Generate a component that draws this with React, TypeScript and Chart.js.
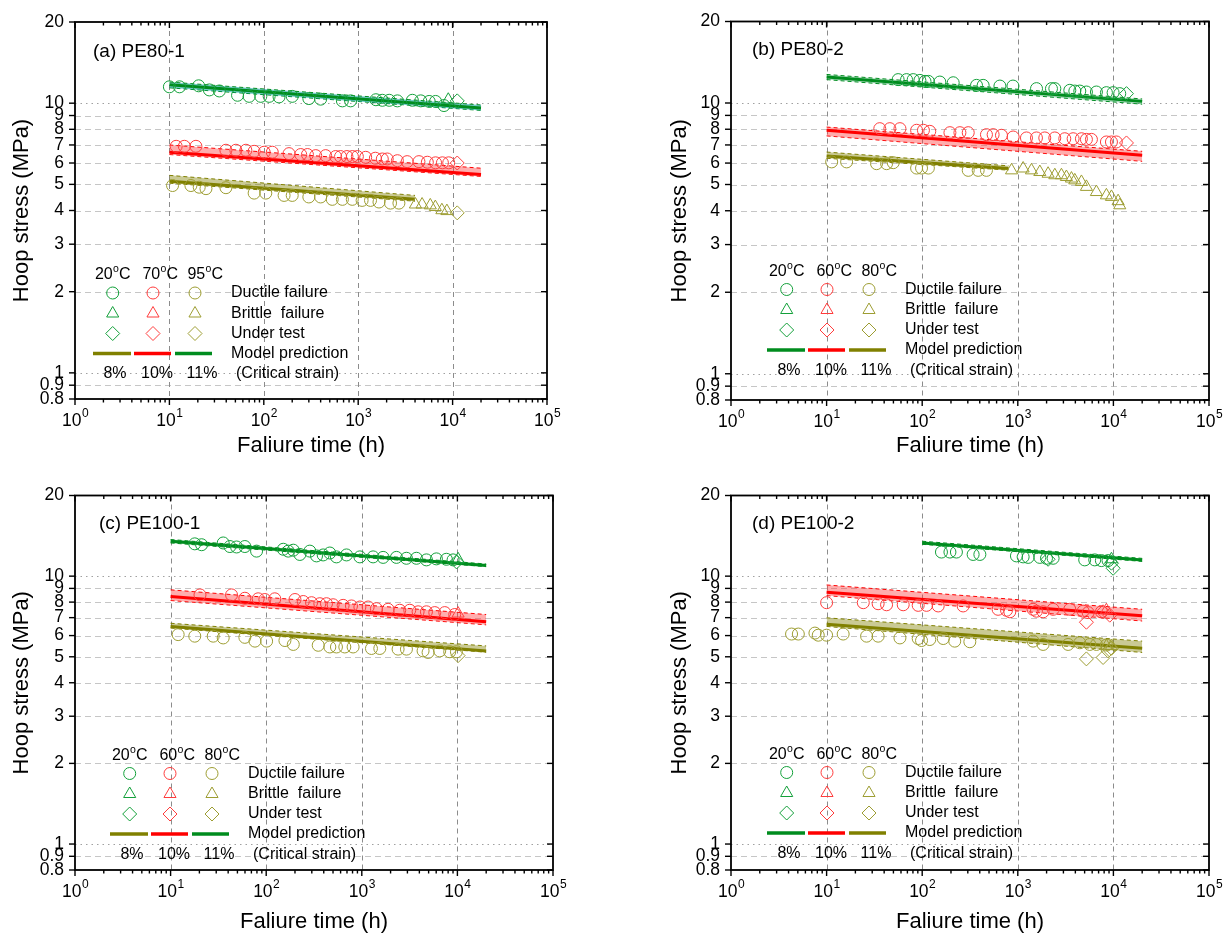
import { useEffect, useRef } from "react";
import { Chart, registerables } from "chart.js";

Chart.register(...registerables);

type Pt = [number, number];

const FONT = "'Liberation Sans', Arial, Helvetica, sans-serif";

// axes
const xDecades = [1, 10, 100, 1000, 10000, 100000];
const yTickValues = [0.8, 0.9, 1, 2, 3, 4, 5, 6, 7, 8, 9, 10, 20];
const yDashedGrid = [0.9, 2, 3, 4, 5, 6, 7, 8, 9];
const yDottedGrid = [1, 10];
const xGrid = [10, 100, 1000, 10000];

// colours for the three temperatures (low, mid, high)
const markerColors = ["#13a03a", "#ff3c3c", "#9d9d32"];
const lineColors = ["#008c1e", "#ff0000", "#808000"];
const bandColors = ["rgba(0,150,60,0.35)", "rgba(255,60,60,0.42)", "rgba(128,128,0,0.42)"];

// ---------- (a) PE80-1 ----------
const a20Ductile: Pt[] = [[10, 11.5], [12.8, 11.5], [20.4, 11.6], [26.5, 11.2], [33.8, 11.1], [52.7, 10.7], [70, 10.6], [93, 10.6], [114, 10.6], [145, 10.55], [200, 10.6], [300, 10.4], [400, 10.35], [680, 10.2], [830, 10.2], [1540, 10.3], [1800, 10.25], [2130, 10.25], [2600, 10.2], [3750, 10.25], [4600, 10.2], [5650, 10.15], [6600, 10.15], [8100, 9.8]];
const a20Brittle: Pt[] = [[9000, 10.3]];
const a20Under: Pt[] = [[11200, 10.2]];
const a20Model: Pt[] = [[10, 11.7], [20000, 9.6]];
const a20Upper: Pt[] = [[10, 11.98], [20000, 9.85]];
const a20Lower: Pt[] = [[10, 11.4], [20000, 9.4]];

const a70Ductile: Pt[] = [[11.8, 6.92], [14.4, 6.92], [19.1, 6.92], [39.7, 6.69], [50.6, 6.69], [64.6, 6.69], [79, 6.63], [101, 6.58], [123, 6.58], [185, 6.5], [246, 6.45], [290, 6.45], [355, 6.39], [452, 6.39], [577, 6.34], [650, 6.34], [760, 6.34], [868, 6.34], [980, 6.34], [1200, 6.3], [1520, 6.25], [1800, 6.21], [2030, 6.21], [2600, 6.12], [3300, 6.07], [4400, 6.07], [5400, 6.04], [6600, 6.01], [7800, 6.01], [9100, 6.01]];
const a70Brittle: Pt[] = [];
const a70Under: Pt[] = [[11200, 6.0]];
const a70Model: Pt[] = [[10, 6.58], [20000, 5.44]];
const a70Upper: Pt[] = [[10, 7.0], [20000, 5.74]];
const a70Lower: Pt[] = [[10, 6.45], [20000, 5.35]];

const a95Ductile: Pt[] = [[10.8, 4.95], [16.9, 4.95], [20.7, 4.88], [24.4, 4.82], [39.7, 4.86], [79, 4.64], [105, 4.64], [164, 4.55], [200, 4.55], [300, 4.49], [400, 4.49], [531, 4.4], [680, 4.4], [865, 4.4], [1100, 4.36], [1350, 4.36], [1660, 4.3], [2200, 4.26], [2700, 4.26]];
const a95Brittle: Pt[] = [[4040, 4.21], [4750, 4.21], [5800, 4.18], [6560, 4.12], [7700, 4.01], [8700, 3.98]];
const a95Under: Pt[] = [[11200, 3.92]];
const a95Model: Pt[] = [[10, 5.13], [4000, 4.4]];
const a95Upper: Pt[] = [[10, 5.4], [4000, 4.55]];
const a95Lower: Pt[] = [[10, 5.05], [4000, 4.33]];

// ---------- (b) PE80-2 ----------
const b20Ductile: Pt[] = [[56, 12.2], [68.6, 12.2], [80.5, 12.2], [94.6, 12.12], [107, 12.02], [116, 12.02], [153, 11.95], [211, 11.88], [370, 11.62], [434, 11.62], [650, 11.55], [890, 11.55], [1570, 11.3], [2250, 11.3], [2440, 11.3], [3500, 11.14], [3950, 11.07], [4450, 11.07], [5220, 10.98], [6640, 10.98], [8450, 10.92], [9930, 10.92], [11650, 10.83]];
const b20Brittle: Pt[] = [];
const b20Under: Pt[] = [[13700, 10.83]];
const b20Model: Pt[] = [[10, 12.47], [20000, 10.14]];
const b20Upper: Pt[] = [[10, 12.75], [20000, 10.35]];
const b20Lower: Pt[] = [[10, 12.2], [20000, 9.9]];

const b60Ductile: Pt[] = [[36, 8.04], [45.9, 8.04], [58.5, 8.04], [87.4, 7.93], [103, 7.93], [120, 7.86], [195, 7.77], [248, 7.77], [303, 7.77], [470, 7.64], [552, 7.64], [675, 7.6], [894, 7.49], [1232, 7.43], [1567, 7.43], [1915, 7.43], [2437, 7.43], [3100, 7.38], [3790, 7.38], [4630, 7.38], [5220, 7.34], [5890, 7.34], [8450, 7.18], [9540, 7.18], [10730, 7.18]];
const b60Brittle: Pt[] = [];
const b60Under: Pt[] = [[13700, 7.12]];
const b60Model: Pt[] = [[10, 7.93], [20000, 6.41]];
const b60Upper: Pt[] = [[10, 8.15], [20000, 6.63]];
const b60Lower: Pt[] = [[10, 7.56], [20000, 6.09]];

const b80Ductile: Pt[] = [[11.3, 6.06], [16.2, 6.06], [33.3, 5.97], [42.4, 5.97], [49.8, 6.02], [87.4, 5.75], [98.4, 5.75], [116, 5.75], [303, 5.64], [385, 5.64], [470, 5.64]];
const b80Brittle: Pt[] = [[860, 5.64], [1137, 5.73], [1390, 5.64], [1700, 5.56], [2075, 5.48], [2440, 5.41], [2860, 5.41], [3225, 5.33], [3640, 5.26], [3945, 5.18], [4630, 5.11], [5220, 4.9], [6640, 4.69], [8450, 4.56], [9540, 4.5], [11200, 4.34], [11650, 4.19]];
const b80Under: Pt[] = [];
const b80Model: Pt[] = [[10, 6.37], [800, 5.73]];
const b80Upper: Pt[] = [[10, 6.59], [800, 5.86]];
const b80Lower: Pt[] = [[10, 6.25], [800, 5.65]];

// ---------- (c) PE100-1 ----------
const c20Ductile: Pt[] = [[17.9, 13.2], [21.1, 13.1], [35.5, 13.3], [41.7, 12.9], [49, 12.85], [59.8, 12.9], [79.3, 12.4], [151, 12.6], [170, 12.4], [192, 12.5], [225, 12.05], [286, 12.4], [336, 11.9], [394, 12.0], [463, 12.2], [543, 11.8], [692, 12.0], [955, 11.8], [1313, 11.8], [1671, 11.75], [2303, 11.75], [2930, 11.66], [3727, 11.66], [4743, 11.5], [6030, 11.6], [7670, 11.56], [9010, 11.5]];
const c20Brittle: Pt[] = [[10170, 11.56]];
const c20Under: Pt[] = [[9800, 11.3]];
const c20Model: Pt[] = [[10, 13.5], [20000, 10.96]];
const c20Upper: Pt[] = [[10, 13.7], [20000, 11.1]];
const c20Lower: Pt[] = [[10, 13.3], [20000, 10.85]];

const c60Ductile: Pt[] = [[20.3, 8.51], [43.4, 8.51], [59.8, 8.27], [82.4, 8.23], [96.8, 8.18], [123, 8.23], [200, 8.18], [244, 8.04], [298, 7.96], [364, 7.89], [427, 7.89], [501, 7.82], [638, 7.78], [780, 7.74], [955, 7.67], [1165, 7.67], [1423, 7.56], [1884, 7.52], [2494, 7.46], [3175, 7.46], [3880, 7.36], [4743, 7.36], [5800, 7.31], [7380, 7.31], [9380, 7.19]];
const c60Brittle: Pt[] = [[10170, 7.25]];
const c60Under: Pt[] = [];
const c60Model: Pt[] = [[10, 8.39], [20000, 6.76]];
const c60Upper: Pt[] = [[10, 8.89], [20000, 7.19]];
const c60Lower: Pt[] = [[10, 8.11], [20000, 6.58]];

const c80Ductile: Pt[] = [[12, 6.05], [17.9, 5.97], [27.9, 5.97], [35.5, 5.88], [59.8, 5.91], [76.3, 5.72], [101, 5.72], [157, 5.75], [192, 5.56], [350, 5.52], [463, 5.44], [543, 5.44], [664, 5.44], [811, 5.44], [1262, 5.37], [1543, 5.37], [2397, 5.34], [2930, 5.34], [4375, 5.26], [4935, 5.19], [6530, 5.26], [8310, 5.22], [9770, 5.22]];
const c80Brittle: Pt[] = [];
const c80Under: Pt[] = [[10170, 5.05]];
const c80Model: Pt[] = [[10, 6.49], [20000, 5.26]];
const c80Upper: Pt[] = [[10, 6.67], [20000, 5.49]];
const c80Lower: Pt[] = [[10, 6.4], [20000, 5.2]];

// ---------- (d) PE100-2 ----------
const d20Ductile: Pt[] = [[159, 12.3], [195, 12.3], [228, 12.3], [341, 12.05], [401, 12.05], [968, 11.9], [1137, 11.8], [1283, 11.75], [1700, 11.75], [1995, 11.66], [2340, 11.66], [5010, 11.5], [6380, 11.5], [7490, 11.43], [8790, 11.43]];
const d20Brittle: Pt[] = [[9540, 11.56]];
const d20Under: Pt[] = [[2075, 11.56], [9930, 10.7], [9540, 11.18]];
const d20Model: Pt[] = [[100, 13.3], [20000, 11.5]];
const d20Upper: Pt[] = [[100, 13.5], [20000, 11.65]];
const d20Lower: Pt[] = [[100, 13.15], [20000, 11.35]];

const d60Ductile: Pt[] = [[10, 7.96], [24.2, 7.96], [34.6, 7.89], [42.4, 7.82], [63.3, 7.82], [90.8, 7.78], [111, 7.78], [147, 7.74], [268, 7.74], [622, 7.52], [762, 7.46], [825, 7.36], [1445, 7.52], [1567, 7.4], [1840, 7.36], [2340, 7.52], [3496, 7.52], [4820, 7.4], [5440, 7.31], [7490, 7.36]];
const d60Brittle: Pt[] = [[8450, 7.46]];
const d60Under: Pt[] = [[5220, 6.73], [7800, 7.36], [9160, 7.15]];
const d60Model: Pt[] = [[10, 8.7], [20000, 7.11]];
const d60Upper: Pt[] = [[10, 9.27], [20000, 7.52]];
const d60Lower: Pt[] = [[10, 8.46], [20000, 6.8]];

const d80Ductile: Pt[] = [[4.3, 6.08], [5.06, 6.08], [7.55, 6.13], [8.18, 6.02], [10, 6.02], [14.9, 6.08], [26.2, 5.97], [34.6, 5.97], [58.5, 5.88], [90.8, 5.85], [98.4, 5.75], [120, 5.8], [166, 5.85], [219, 5.72], [315, 5.69], [1445, 5.72], [1840, 5.56], [3360, 5.56], [4450, 5.64], [5660, 5.56], [6640, 5.56], [8450, 5.53]];
const d80Brittle: Pt[] = [[8450, 5.48], [9540, 5.48]];
const d80Under: Pt[] = [[5220, 4.91], [7800, 4.97], [8790, 5.26], [9540, 5.38]];
const d80Model: Pt[] = [[10, 6.62], [20000, 5.38]];
const d80Upper: Pt[] = [[10, 6.99], [20000, 5.72]];
const d80Lower: Pt[] = [[10, 6.49], [20000, 5.19]];

interface Group { ductile: Pt[]; brittle: Pt[]; under: Pt[]; model: Pt[]; upper: Pt[]; lower: Pt[] }

interface PanelCfg {
  label: string;
  temps: string[];
  legendLines: number[];
  groups: Group[];
  left: number;
  top: number;
  padTop: number;
  padRight: number;
  yWidth: number;
  xHeight: number;
  yTitlePad: number;
  xTitlePad: number;
  labelAt: [number, number];
  legendDx: number;
  legendY: number;
  bands?: string[];
}

const W = 616;
const H = 474;

const panels: PanelCfg[] = [
  {
    label: "(a) PE80-1", temps: ["20", "70", "95"], legendLines: [2, 1, 0],
    groups: [
      { ductile: a20Ductile, brittle: a20Brittle, under: a20Under, model: a20Model, upper: a20Upper, lower: a20Lower },
      { ductile: a70Ductile, brittle: a70Brittle, under: a70Under, model: a70Model, upper: a70Upper, lower: a70Lower },
      { ductile: a95Ductile, brittle: a95Brittle, under: a95Under, model: a95Model, upper: a95Upper, lower: a95Lower },
    ],
    left: 0, top: 0, padTop: 22, padRight: 69, yWidth: 75, xHeight: 75, yTitlePad: 9, xTitlePad: 15,
    labelAt: [18, 30], legendDx: 0, legendY: 253,
    bands: ["rgba(0,160,160,0.55)", bandColors[1], bandColors[2]],
  },
  {
    label: "(b) PE80-2", temps: ["20", "60", "80"], legendLines: [0, 1, 2],
    groups: [
      { ductile: b20Ductile, brittle: b20Brittle, under: b20Under, model: b20Model, upper: b20Upper, lower: b20Lower },
      { ductile: b60Ductile, brittle: b60Brittle, under: b60Under, model: b60Model, upper: b60Upper, lower: b60Lower },
      { ductile: b80Ductile, brittle: b80Brittle, under: b80Under, model: b80Model, upper: b80Upper, lower: b80Lower },
    ],
    left: W, top: 0, padTop: 19, padRight: 23, yWidth: 115, xHeight: 74, yTitlePad: 51, xTitlePad: 15,
    labelAt: [21, 28], legendDx: 18, legendY: 250,
  },
  {
    label: "(c) PE100-1", temps: ["20", "60", "80"], legendLines: [2, 1, 0],
    groups: [
      { ductile: c20Ductile, brittle: c20Brittle, under: c20Under, model: c20Model, upper: c20Upper, lower: c20Lower },
      { ductile: c60Ductile, brittle: c60Brittle, under: c60Under, model: c60Model, upper: c60Upper, lower: c60Lower },
      { ductile: c80Ductile, brittle: c80Brittle, under: c80Under, model: c80Model, upper: c80Upper, lower: c80Lower },
    ],
    left: 0, top: H, padTop: 13, padRight: 63, yWidth: 75, xHeight: 78, yTitlePad: 9, xTitlePad: 13,
    labelAt: [24, 28], legendDx: 17, legendY: 260,
  },
  {
    label: "(d) PE100-2", temps: ["20", "60", "80"], legendLines: [0, 1, 2],
    groups: [
      { ductile: d20Ductile, brittle: d20Brittle, under: d20Under, model: d20Model, upper: d20Upper, lower: d20Lower },
      { ductile: d60Ductile, brittle: d60Brittle, under: d60Under, model: d60Model, upper: d60Upper, lower: d60Lower },
      { ductile: d80Ductile, brittle: d80Brittle, under: d80Under, model: d80Model, upper: d80Upper, lower: d80Lower },
    ],
    left: W, top: H, padTop: 13, padRight: 23, yWidth: 115, xHeight: 78, yTitlePad: 51, xTitlePad: 13,
    labelAt: [21, 28], legendDx: 18, legendY: 259,
  },
];

const toXY = (pts: Pt[]) => pts.map(([x, y]) => ({ x, y }));

function seg(ctx: CanvasRenderingContext2D, x1: number, y1: number, x2: number, y2: number) {
  ctx.beginPath();
  ctx.moveTo(x1, y1);
  ctx.lineTo(x2, y2);
  ctx.stroke();
}

function marker(ctx: CanvasRenderingContext2D, kind: string, x: number, y: number, color: string) {
  ctx.save();
  ctx.setLineDash([]);
  ctx.strokeStyle = color;
  ctx.lineWidth = 1;
  ctx.beginPath();
  if (kind === "circle") {
    ctx.arc(x, y, 6, 0, Math.PI * 2);
  } else if (kind === "triangle") {
    const r = 7;
    ctx.moveTo(x, y - r);
    ctx.lineTo(x + r * Math.sin((2 * Math.PI) / 3), y - r * Math.cos((2 * Math.PI) / 3));
    ctx.lineTo(x + r * Math.sin((4 * Math.PI) / 3), y - r * Math.cos((4 * Math.PI) / 3));
    ctx.closePath();
  } else {
    const r = 7;
    ctx.moveTo(x, y - r);
    ctx.lineTo(x + r, y);
    ctx.lineTo(x, y + r);
    ctx.lineTo(x - r, y);
    ctx.closePath();
  }
  ctx.stroke();
  ctx.restore();
}

function makeDecor(cfg: PanelCfg) {
  return {
    id: "decor",
    beforeDatasetsDraw(chart: Chart) {
      const { ctx, chartArea: a } = chart;
      const x = chart.scales.x;
      const y = chart.scales.y;
      ctx.save();
      ctx.lineWidth = 1;
      ctx.strokeStyle = "#c6c6c6";
      ctx.setLineDash([6, 4]);
      yDashedGrid.forEach((v) => {
        const py = Math.round(y.getPixelForValue(v)) + 0.5;
        seg(ctx, a.left, py, a.right, py);
      });
      ctx.strokeStyle = "#a0a0a0";
      ctx.setLineDash([1.5, 4]);
      yDottedGrid.forEach((v) => {
        const py = Math.round(y.getPixelForValue(v)) + 0.5;
        seg(ctx, a.left, py, a.right, py);
      });
      ctx.strokeStyle = "#8c8c8c";
      ctx.setLineDash([5, 4]);
      xGrid.forEach((v) => {
        const px = Math.round(x.getPixelForValue(v)) + 0.5;
        seg(ctx, px, a.top, px, a.bottom);
      });
      ctx.restore();
    },
    afterDraw(chart: Chart) {
      const { ctx, chartArea: a } = chart;
      const x = chart.scales.x;
      const y = chart.scales.y;
      ctx.save();
      ctx.setLineDash([]);
      ctx.strokeStyle = "#000";
      ctx.lineWidth = 1.8;
      ctx.strokeRect(a.left, a.top, a.right - a.left, a.bottom - a.top);

      // x ticks: bottom outward, top inward
      ctx.lineWidth = 1.4;
      for (let d = 0; d < xDecades.length; d++) {
        const base = xDecades[d];
        const px = x.getPixelForValue(base);
        seg(ctx, px, a.bottom, px, a.bottom + 6);
        seg(ctx, px, a.top, px, a.top + 6);
        if (d < xDecades.length - 1) {
          for (let k = 2; k <= 9; k++) {
            const mx = x.getPixelForValue(base * k);
            seg(ctx, mx, a.bottom, mx, a.bottom + 3.5);
            seg(ctx, mx, a.top, mx, a.top + 3.5);
          }
        }
      }
      // y ticks: left outward, right inward
      yTickValues.forEach((v) => {
        const py = y.getPixelForValue(v);
        seg(ctx, a.left - 6, py, a.left, py);
        seg(ctx, a.right - 6, py, a.right, py);
      });

      // x tick labels with superscript powers
      ctx.fillStyle = "#000";
      ctx.textBaseline = "middle";
      ctx.textAlign = "left";
      xDecades.forEach((v, i) => {
        const px = x.getPixelForValue(v);
        const ly = a.bottom + 22;
        ctx.font = `17.5px ${FONT}`;
        const wb = ctx.measureText("10").width;
        ctx.font = `12px ${FONT}`;
        const ws = ctx.measureText(String(i)).width;
        const sx = px - (wb + ws) / 2;
        ctx.font = `17.5px ${FONT}`;
        ctx.fillText("10", sx, ly);
        ctx.font = `12px ${FONT}`;
        ctx.fillText(String(i), sx + wb + 0.5, ly - 7);
      });

      // panel label
      ctx.font = `19px ${FONT}`;
      ctx.fillText(cfg.label, a.left + cfg.labelAt[0], a.top + cfg.labelAt[1]);

      // legend
      const L = a.left + cfg.legendDx;
      const T = a.top + cfg.legendY;
      const headX = [37.5, 85, 130];
      const markX = [37.7, 78, 120];
      const lineX: Pt[] = [[18, 56], [59, 96], [100, 137]];
      const pctX = [40, 82, 127];
      const pcts = ["8%", "10%", "11%"];
      cfg.temps.forEach((t, i) => {
        ctx.font = `16px ${FONT}`;
        const w1 = ctx.measureText(t).width;
        const wc = ctx.measureText("C").width;
        ctx.font = `10.5px ${FONT}`;
        const wo = ctx.measureText("o").width;
        const sx = L + headX[i] - (w1 + wo + wc) / 2;
        ctx.font = `16px ${FONT}`;
        ctx.fillText(t, sx, T);
        ctx.fillText("C", sx + w1 + wo + 0.5, T);
        ctx.font = `10.5px ${FONT}`;
        ctx.fillText("o", sx + w1 + 0.3, T - 5.5);

        marker(ctx, "circle", L + markX[i], T + 18, markerColors[i]);
        marker(ctx, "triangle", L + markX[i], T + 38.5, markerColors[i]);
        marker(ctx, "diamond", L + markX[i], T + 58.5, markerColors[i]);

        ctx.strokeStyle = lineColors[cfg.legendLines[i]];
        ctx.lineWidth = 3.5;
        seg(ctx, L + lineX[i][0], T + 78.5, L + lineX[i][1], T + 78.5);

        ctx.font = `16px ${FONT}`;
        ctx.textAlign = "center";
        ctx.fillText(pcts[i], L + pctX[i], T + 99);
        ctx.textAlign = "left";
      });
      ctx.font = `16px ${FONT}`;
      ctx.fillText("Ductile failure", L + 156, T + 18);
      ctx.fillText("Brittle  failure", L + 156, T + 38.5);
      ctx.fillText("Under test", L + 156, T + 58.5);
      ctx.fillText("Model prediction", L + 156, T + 78.5);
      ctx.fillText("(Critical strain)", L + 161, T + 99);
      ctx.restore();
    },
  };
}

function buildDatasets(cfg: PanelCfg) {
  const sets: any[] = [];
  const bands = cfg.bands ?? bandColors;
  cfg.groups.forEach((g, i) => {
    sets.push({
      data: toXY(g.upper), borderColor: lineColors[i], borderWidth: 1, borderDash: [4, 3],
      pointRadius: 0, fill: "+1", backgroundColor: bands[i], order: 3,
    });
    sets.push({
      data: toXY(g.lower), borderColor: lineColors[i], borderWidth: 1, borderDash: [4, 3],
      pointRadius: 0, fill: false, order: 3,
    });
    sets.push({
      data: toXY(g.model), borderColor: lineColors[i], borderWidth: 3,
      pointRadius: 0, fill: false, order: 2,
    });
    const pointSet = (pts: Pt[], style: string, r: number) => ({
      data: toXY(pts), showLine: false, pointStyle: style, pointRadius: r,
      pointBorderColor: markerColors[i], pointBackgroundColor: "rgba(0,0,0,0)",
      pointBorderWidth: 1, order: 1,
    });
    sets.push(pointSet(g.ductile, "circle", 6));
    sets.push(pointSet(g.brittle, "triangle", 7));
    sets.push(pointSet(g.under, "rectRot", 7));
  });
  return sets;
}

function Panel({ cfg }: { cfg: PanelCfg }) {
  const canvasRef = useRef<HTMLCanvasElement>(null);

  useEffect(() => {
    if (!canvasRef.current) return;
    const chart = new Chart(canvasRef.current, {
      type: "line",
      data: { datasets: buildDatasets(cfg) },
      options: {
        responsive: false,
        animation: false,
        events: [],
        layout: { padding: { top: cfg.padTop, right: cfg.padRight, left: 0, bottom: 0 } },
        plugins: { legend: { display: false }, tooltip: { enabled: false } },
        scales: {
          x: {
            type: "logarithmic",
            min: 1,
            max: 100000,
            grid: { display: false, drawTicks: false },
            border: { display: false },
            ticks: { display: false },
            afterFit: (s: any) => { s.height = cfg.xHeight; },
            title: {
              display: true,
              text: "Faliure time (h)",
              color: "#000",
              font: { family: FONT, size: 22 },
              padding: { top: 0, bottom: cfg.xTitlePad },
            },
          },
          y: {
            type: "logarithmic",
            min: 0.8,
            max: 20,
            grid: { display: false, drawTicks: false },
            border: { display: false },
            afterBuildTicks: (s: any) => { s.ticks = yTickValues.map((v) => ({ value: v })); },
            afterFit: (s: any) => { s.width = cfg.yWidth; },
            ticks: {
              autoSkip: false,
              padding: 11,
              color: "#000",
              font: { family: FONT, size: 17.5 },
              callback: (v: any) => String(v),
            },
            title: {
              display: true,
              text: "Hoop stress (MPa)",
              color: "#000",
              font: { family: FONT, size: 22 },
              padding: { top: cfg.yTitlePad, bottom: 0 },
            },
          },
        },
      },
      plugins: [makeDecor(cfg)],
    });
    return () => chart.destroy();
  }, [cfg]);

  return (
    <canvas
      ref={canvasRef}
      width={W}
      height={H}
      style={{ position: "absolute", left: cfg.left, top: cfg.top, width: W, height: H }}
    />
  );
}

export default function App() {
  return (
    <div style={{ position: "absolute", left: 0, top: 0, width: 1232, height: 948, background: "#fff" }}>
      {panels.map((p) => (
        <Panel key={p.label} cfg={p} />
      ))}
    </div>
  );
}
